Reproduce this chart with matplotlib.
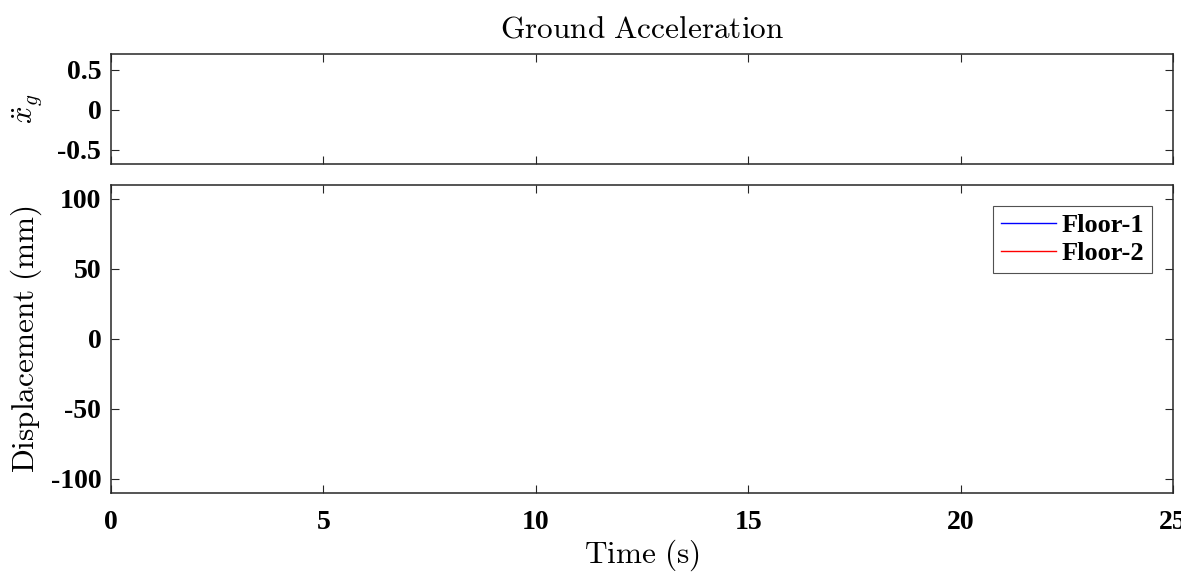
# Two-storey shear frame: ground acceleration and floor displacement histories
import numpy as np
from matplotlib import pyplot as plt

plt.rcParams['mathtext.fontset'] = 'cm'
plt.rcParams['font.family'] = 'Liberation Serif'
plt.rcParams['font.weight'] = 'bold'
plt.rcParams['axes.unicode_minus'] = False

# time history (empty record)
time = []
ground_acc = []
floor1_disp = []
floor2_disp = []

xticks = [0, 5, 10, 15, 20, 25]
acc_ticks = [-0.5, 0, 0.5]
acc_ticklabels = ["-0.5", "0", "0.5"]
disp_ticks = [-100, -50, 0, 50, 100]

W, H = 1181, 577
fig = plt.figure(figsize=(W / 100, H / 100), dpi=100)

def box(x0, y0, x1, y1):
    return [x0 / W, 1 - y1 / H, (x1 - x0) / W, (y1 - y0) / H]

ax1 = fig.add_axes(box(111, 54, 1173, 164))
ax2 = fig.add_axes(box(111, 185, 1173, 493))

ax1.plot(time, ground_acc, color="black", lw=1)
ax2.plot(time, floor1_disp, color="#0000ff", lw=1, label="Floor-1")
ax2.plot(time, floor2_disp, color="#ff0000", lw=1, label="Floor-2")

for ax in (ax1, ax2):
    ax.set_xlim(0, 25)
    ax.set_xticks(xticks)
    ax.tick_params(direction="in", top=True, right=True, length=6, width=0.8,
                   color="#262626", labelsize=20, pad=7)
    ax.tick_params(axis="x", pad=12)
    for s in ax.spines.values():
        s.set_linewidth(1.1)
        s.set_color("#262626")

ax1.set_ylim(-0.68, 0.7)
ax1.set_yticks(acc_ticks)
ax1.set_yticklabels(acc_ticklabels)
ax1.set_xticklabels([])
ax1.set_ylabel(r"$\ddot{x}_g$", fontsize=22, labelpad=10)
ax1.set_title(r"$\mathrm{Ground\ Acceleration}$", fontsize=22.5, pad=12)

ax2.set_ylim(-110, 110)
ax2.set_yticks(disp_ticks)
ax2.set_xticklabels([str(t) for t in xticks])
ax2.set_ylabel(r"$\mathrm{Displacement\ (mm)}$", fontsize=22.5, labelpad=5)
ax2.set_xlabel(r"$\mathrm{Time\ (s)}$", fontsize=22.5, labelpad=2)

leg = ax2.legend(loc="upper right", fontsize=19, frameon=True, fancybox=False,
                 edgecolor="#262626", handlelength=2.1, handletextpad=0.2,
                 borderpad=0.3, labelspacing=0.15, borderaxespad=0.8)
leg.get_frame().set_linewidth(0.8)
for t in leg.get_texts():
    t.set_fontweight("bold")

fig.savefig("out.png", dpi=100)
